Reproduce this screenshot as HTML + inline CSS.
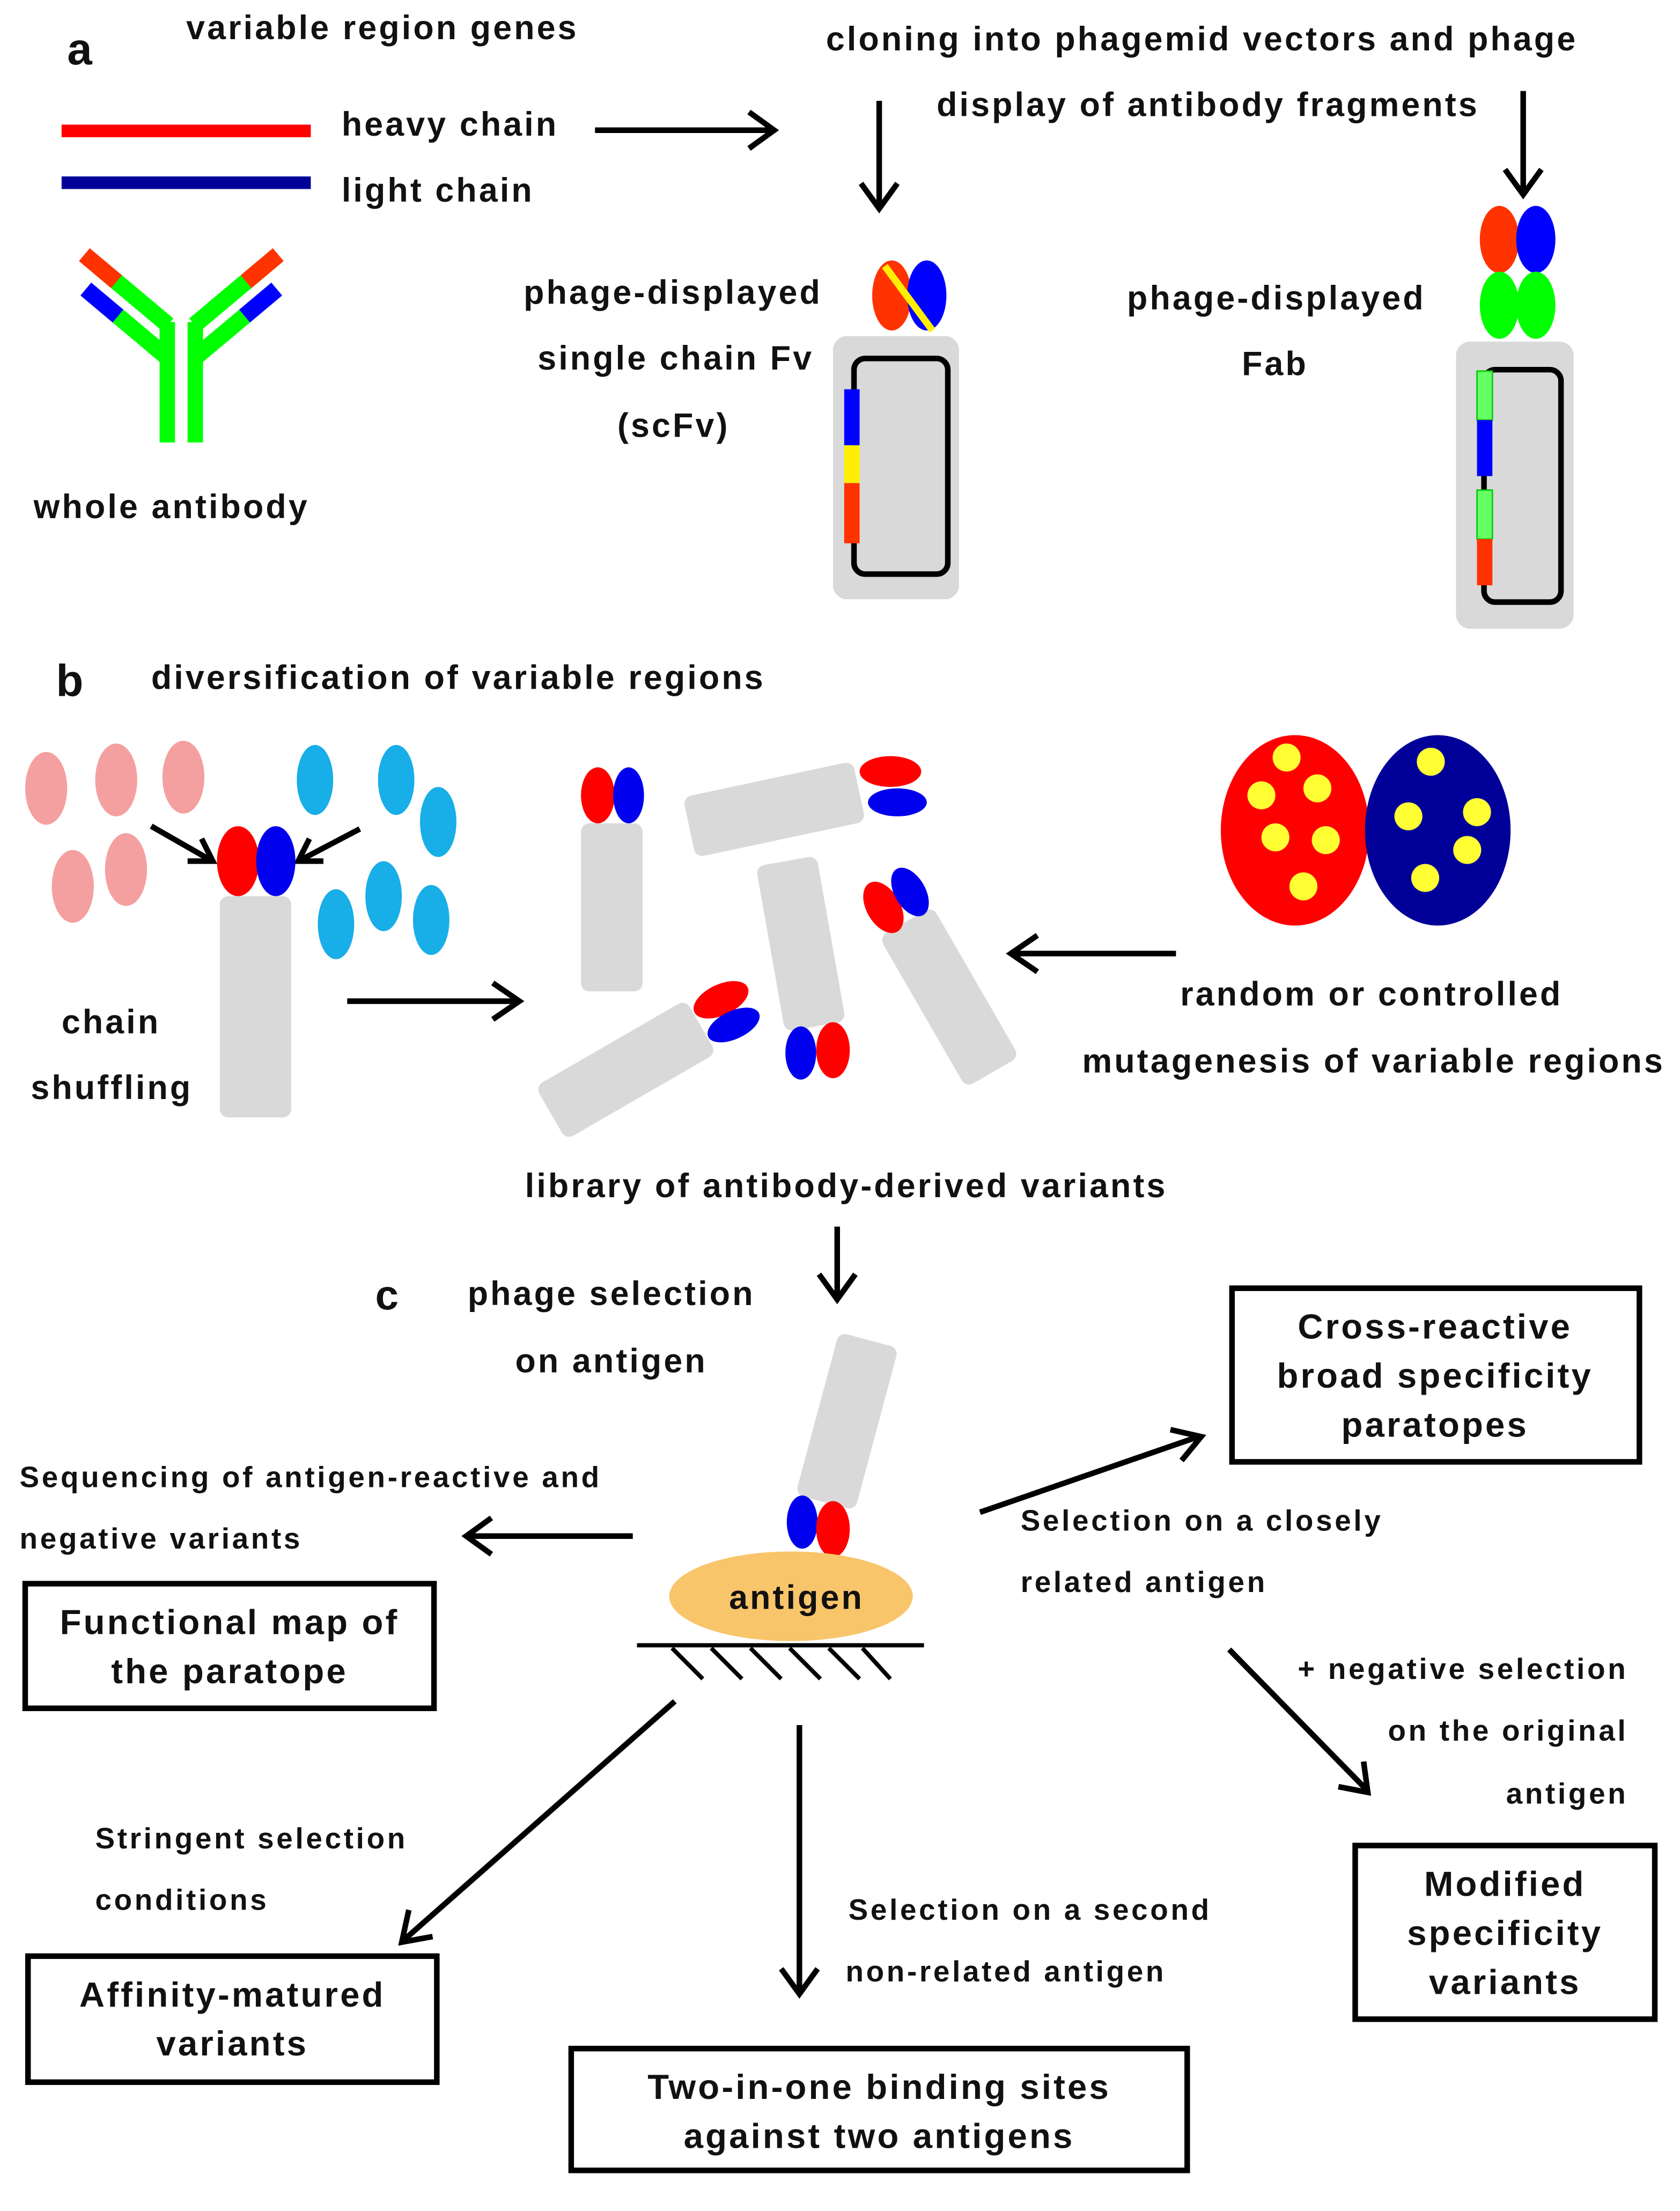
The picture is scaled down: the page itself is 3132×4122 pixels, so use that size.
<!DOCTYPE html>
<html><head><meta charset="utf-8"><style>
html,body{margin:0;padding:0;background:#fff}
svg{display:block}
text{font-family:"Liberation Sans",Arial,sans-serif;font-weight:bold;fill:#111}
</style></head><body>
<svg width="3132" height="4122" viewBox="0 0 1200 1579" preserveAspectRatio="none" xmlns="http://www.w3.org/2000/svg">
<style>
.a{stroke:#000;stroke-width:4;fill:none}
.t{font-size:24px;letter-spacing:1.6px}
.s{font-size:21px;letter-spacing:1.8px}
.b{font-size:25px;letter-spacing:1.6px}
.box{fill:#fff;stroke:#000;stroke-width:4}
.g{fill:#d9d9d9}
</style>
<!-- section a -->
<text x="48" y="46" style="font-size:32px">a</text>
<text x="133" y="28" class="t">variable region genes</text>
<rect x="44" y="89" width="178" height="9" fill="#ff0000"/>
<rect x="44" y="126" width="178" height="9" fill="#000099"/>
<text x="244" y="97" class="t">heavy chain</text>
<text x="244" y="144" class="t">light chain</text>
<line x1="425" y1="93" x2="552" y2="93" class="a"/>
<path d="M535,80 L553,93 L535,106" class="a"/>
<text x="590" y="36" class="t">cloning into  phagemid vectors and phage</text>
<text x="669" y="83" class="t">display of antibody fragments</text>
<line x1="628" y1="72" x2="628" y2="148" class="a"/>
<path d="M615,131 L628,149 L641,131" class="a"/>
<line x1="1088" y1="65" x2="1088" y2="138" class="a"/>
<path d="M1075,121 L1088,139 L1101,121" class="a"/>
<!-- antibody -->
<rect x="114" y="230" width="11" height="86" fill="#00ff00"/>
<rect x="134" y="230" width="11" height="86" fill="#00ff00"/>
<g transform="translate(120,232) rotate(-140)"><rect x="0" y="-6" width="64" height="12" fill="#00ff00"/><rect x="48" y="-6" width="30" height="12" fill="#ff3300"/></g>
<g transform="translate(118,254) rotate(-140)"><rect x="0" y="-6" width="44" height="12" fill="#00ff00"/><rect x="44" y="-6" width="30" height="12" fill="#0000ff"/></g>
<g transform="translate(139,232) rotate(-40)"><rect x="0" y="-6" width="64" height="12" fill="#00ff00"/><rect x="48" y="-6" width="30" height="12" fill="#ff3300"/></g>
<g transform="translate(141,254) rotate(-40)"><rect x="0" y="-6" width="44" height="12" fill="#00ff00"/><rect x="44" y="-6" width="30" height="12" fill="#0000ff"/></g>
<text x="24" y="370" class="t">whole antibody</text>
<!-- scFv -->
<text x="374" y="217" class="t">phage-displayed</text>
<text x="384" y="264" class="t">single chain Fv</text>
<text x="441" y="312" class="t">(scFv)</text>
<ellipse cx="637" cy="211" rx="14" ry="25" fill="#ff3300"/>
<ellipse cx="662" cy="211" rx="14" ry="25" fill="#0000ff"/>
<line x1="632" y1="190" x2="666" y2="236" stroke="#ffee00" stroke-width="5"/>
<rect x="595" y="240" width="90" height="188" rx="10" class="g"/>
<rect x="610" y="256" width="67" height="154" rx="8" fill="none" stroke="#000" stroke-width="4"/>
<rect x="603" y="278" width="11" height="40" fill="#0000ff"/>
<rect x="603" y="318" width="11" height="27" fill="#ffee00"/>
<rect x="603" y="345" width="11" height="43" fill="#ff3300"/>
<!-- Fab -->
<text x="805" y="221" class="t">phage-displayed</text>
<text x="887" y="268" class="t">Fab</text>
<ellipse cx="1071" cy="171" rx="14" ry="24" fill="#ff3300"/>
<ellipse cx="1097" cy="171" rx="14" ry="24" fill="#0000ff"/>
<ellipse cx="1071" cy="218" rx="14" ry="24" fill="#00ff00"/>
<ellipse cx="1097" cy="218" rx="14" ry="24" fill="#00ff00"/>
<rect x="1040" y="244" width="84" height="205" rx="10" class="g"/>
<rect x="1060" y="264" width="55" height="166" rx="8" fill="none" stroke="#000" stroke-width="4"/>
<rect x="1055" y="265" width="11" height="35" fill="#66ff66" stroke="#00cc00"/>
<rect x="1055" y="300" width="11" height="40" fill="#0000ff"/>
<rect x="1055" y="350" width="11" height="35" fill="#66ff66" stroke="#00cc00"/>
<rect x="1055" y="385" width="11" height="33" fill="#ff3300"/>
<!-- section b -->
<text x="40" y="497" style="font-size:32px">b</text>
<text x="108" y="492" class="t">diversification of variable regions</text>
<g fill="#f5a0a0">
<ellipse cx="33" cy="563" rx="15" ry="26"/><ellipse cx="83" cy="557" rx="15" ry="26"/><ellipse cx="131" cy="555" rx="15" ry="26"/><ellipse cx="52" cy="633" rx="15" ry="26"/><ellipse cx="90" cy="621" rx="15" ry="26"/>
</g>
<g fill="#18aee8">
<ellipse cx="225" cy="557" rx="13" ry="25"/><ellipse cx="283" cy="557" rx="13" ry="25"/><ellipse cx="313" cy="587" rx="13" ry="25"/><ellipse cx="274" cy="640" rx="13" ry="25"/><ellipse cx="240" cy="660" rx="13" ry="25"/><ellipse cx="308" cy="657" rx="13" ry="25"/>
</g>
<line x1="108" y1="590" x2="150" y2="614" class="a"/><path d="M134,615 L152,615 L144,599" class="a"/>
<line x1="257" y1="592" x2="215" y2="614" class="a"/><path d="M231,615 L213,615 L221,599" class="a"/>
<ellipse cx="170" cy="615" rx="15" ry="25" fill="#ff0000"/>
<ellipse cx="197" cy="615" rx="14" ry="25" fill="#0000ee"/>
<rect x="157" y="640" width="51" height="158" rx="6" class="g"/>
<text x="44" y="738" class="t">chain</text>
<text x="22" y="785" class="t">shuffling</text>
<line x1="248" y1="715" x2="370" y2="715" class="a"/><path d="M352,702 L371,715 L352,728" class="a"/>
<!-- library -->
<rect x="415" y="588" width="44" height="120" rx="6" class="g"/>
<ellipse cx="427" cy="568" rx="12" ry="20" fill="#ff0000"/><ellipse cx="449" cy="568" rx="11" ry="20" fill="#0000ee"/>
<rect x="-62" y="-22" width="124" height="44" rx="6" class="g" transform="translate(553,578) rotate(-12)"/>
<ellipse cx="636" cy="551" rx="22" ry="11" fill="#ff0000"/><ellipse cx="641" cy="573" rx="21" ry="10" fill="#0000ee"/>
<rect x="-22" y="-60" width="44" height="120" rx="6" class="g" transform="translate(572,674) rotate(-10)"/>
<ellipse cx="572" cy="752" rx="11" ry="19" fill="#0000ee"/><ellipse cx="595" cy="750" rx="12" ry="20" fill="#ff0000"/>
<rect x="-22" y="-62" width="44" height="124" rx="6" class="g" transform="translate(678,712) rotate(-30)"/>
<ellipse cx="631" cy="648" rx="12" ry="20" fill="#ff0000" transform="rotate(-30 631 648)"/><ellipse cx="650" cy="637" rx="11" ry="19" fill="#0000ee" transform="rotate(-30 650 637)"/>
<rect x="-22" y="-62" width="44" height="124" rx="6" class="g" transform="translate(447,764) rotate(60)"/>
<ellipse cx="515" cy="714" rx="21" ry="11" fill="#ff0000" transform="rotate(-25 515 714)"/><ellipse cx="524" cy="732" rx="20" ry="10" fill="#0000ee" transform="rotate(-25 524 732)"/>
<!-- mutagenesis -->
<ellipse cx="925" cy="593" rx="53" ry="68" fill="#ff0000"/>
<ellipse cx="1027" cy="593" rx="52" ry="68" fill="#000099"/>
<g fill="#ffff33">
<circle cx="919" cy="541" r="10"/><circle cx="941" cy="563" r="10"/><circle cx="901" cy="568" r="10"/><circle cx="911" cy="598" r="10"/><circle cx="947" cy="600" r="10"/><circle cx="931" cy="633" r="10"/>
<circle cx="1022" cy="544" r="10"/><circle cx="1006" cy="583" r="10"/><circle cx="1055" cy="580" r="10"/><circle cx="1048" cy="607" r="10"/><circle cx="1018" cy="627" r="10"/>
</g>
<line x1="840" y1="681" x2="724" y2="681" class="a"/><path d="M741,668 L722,681 L741,694" class="a"/>
<text x="843" y="718" class="t">random or controlled</text>
<text x="773" y="766" class="t">mutagenesis of variable regions</text>
<text x="375" y="855" class="t">library of antibody-derived variants</text>
<line x1="598" y1="876" x2="598" y2="927" class="a"/><path d="M585,910 L598,928 L611,910" class="a"/>
<!-- section c -->
<text x="268" y="935" style="font-size:30px">c</text>
<text x="334" y="932" class="t">phage selection</text>
<text x="368" y="980" class="t">on antigen</text>
<rect x="-22" y="-60" width="44" height="120" rx="6" class="g" transform="translate(605,1015) rotate(15)"/>
<ellipse cx="573" cy="1087" rx="11" ry="19" fill="#0000ee"/><ellipse cx="595" cy="1092" rx="12" ry="20" fill="#ff0000"/>
<ellipse cx="565" cy="1140" rx="87" ry="32" fill="#f9c56a"/>
<text x="569" y="1149" class="t" text-anchor="middle">antigen</text>
<line x1="455" y1="1175" x2="660" y2="1175" stroke="#000" stroke-width="3"/>
<g stroke="#000" stroke-width="3">
<line x1="480" y1="1177" x2="502" y2="1199"/><line x1="508" y1="1177" x2="530" y2="1199"/><line x1="536" y1="1177" x2="558" y2="1199"/><line x1="564" y1="1177" x2="586" y2="1199"/><line x1="592" y1="1177" x2="614" y2="1199"/><line x1="616" y1="1177" x2="636" y2="1199"/>
</g>
<rect x="880" y="920" width="291" height="124" class="box"/>
<text x="1025" y="956" class="b" text-anchor="middle">Cross-reactive</text>
<text x="1025" y="991" class="b" text-anchor="middle">broad specificity</text>
<text x="1025" y="1026" class="b" text-anchor="middle">paratopes</text>
<line x1="700" y1="1080" x2="856" y2="1026" class="a"/><path d="M836,1021 L858,1026 L844,1043" class="a"/>
<text x="729" y="1093" class="s">Selection on a closely</text>
<text x="729" y="1137" class="s">related antigen</text>
<text x="14" y="1062" class="s">Sequencing of antigen-reactive and</text>
<text x="14" y="1106" class="s">negative variants</text>
<line x1="452" y1="1097" x2="334" y2="1097" class="a"/><path d="M351,1084 L333,1097 L351,1110" class="a"/>
<rect x="18" y="1131" width="292" height="89" class="box"/>
<text x="164" y="1167" class="b" text-anchor="middle">Functional  map  of</text>
<text x="164" y="1202" class="b" text-anchor="middle">the paratope</text>
<line x1="878" y1="1178" x2="976" y2="1278" class="a"/><path d="M956,1276 L977,1280 L974,1258" class="a"/>
<text x="1163" y="1199" class="s" text-anchor="end">+ negative selection</text>
<text x="1163" y="1243" class="s" text-anchor="end">on the original</text>
<text x="1163" y="1288" class="s" text-anchor="end">antigen</text>
<rect x="968" y="1318" width="214" height="124" class="box"/>
<text x="1075" y="1354" class="b" text-anchor="middle">Modified</text>
<text x="1075" y="1389" class="b" text-anchor="middle">specificity</text>
<text x="1075" y="1424" class="b" text-anchor="middle">variants</text>
<line x1="482" y1="1215" x2="289" y2="1385" class="a"/><path d="M292,1364 L287,1387 L309,1383" class="a"/>
<text x="68" y="1320" class="s">Stringent selection</text>
<text x="68" y="1364" class="s">conditions</text>
<rect x="20" y="1397" width="292" height="90" class="box"/>
<text x="166" y="1433" class="b" text-anchor="middle">Affinity-matured</text>
<text x="166" y="1468" class="b" text-anchor="middle">variants</text>
<line x1="571" y1="1232" x2="571" y2="1423" class="a"/><path d="M558,1406 L571,1424 L584,1406" class="a"/>
<text x="606" y="1371" class="s">Selection on a second</text>
<text x="604" y="1415" class="s">non-related antigen</text>
<rect x="408" y="1463" width="440" height="87" class="box"/>
<text x="628" y="1499" class="b" text-anchor="middle">Two-in-one  binding  sites</text>
<text x="628" y="1534" class="b" text-anchor="middle">against  two antigens</text>
</svg>
</body></html>
